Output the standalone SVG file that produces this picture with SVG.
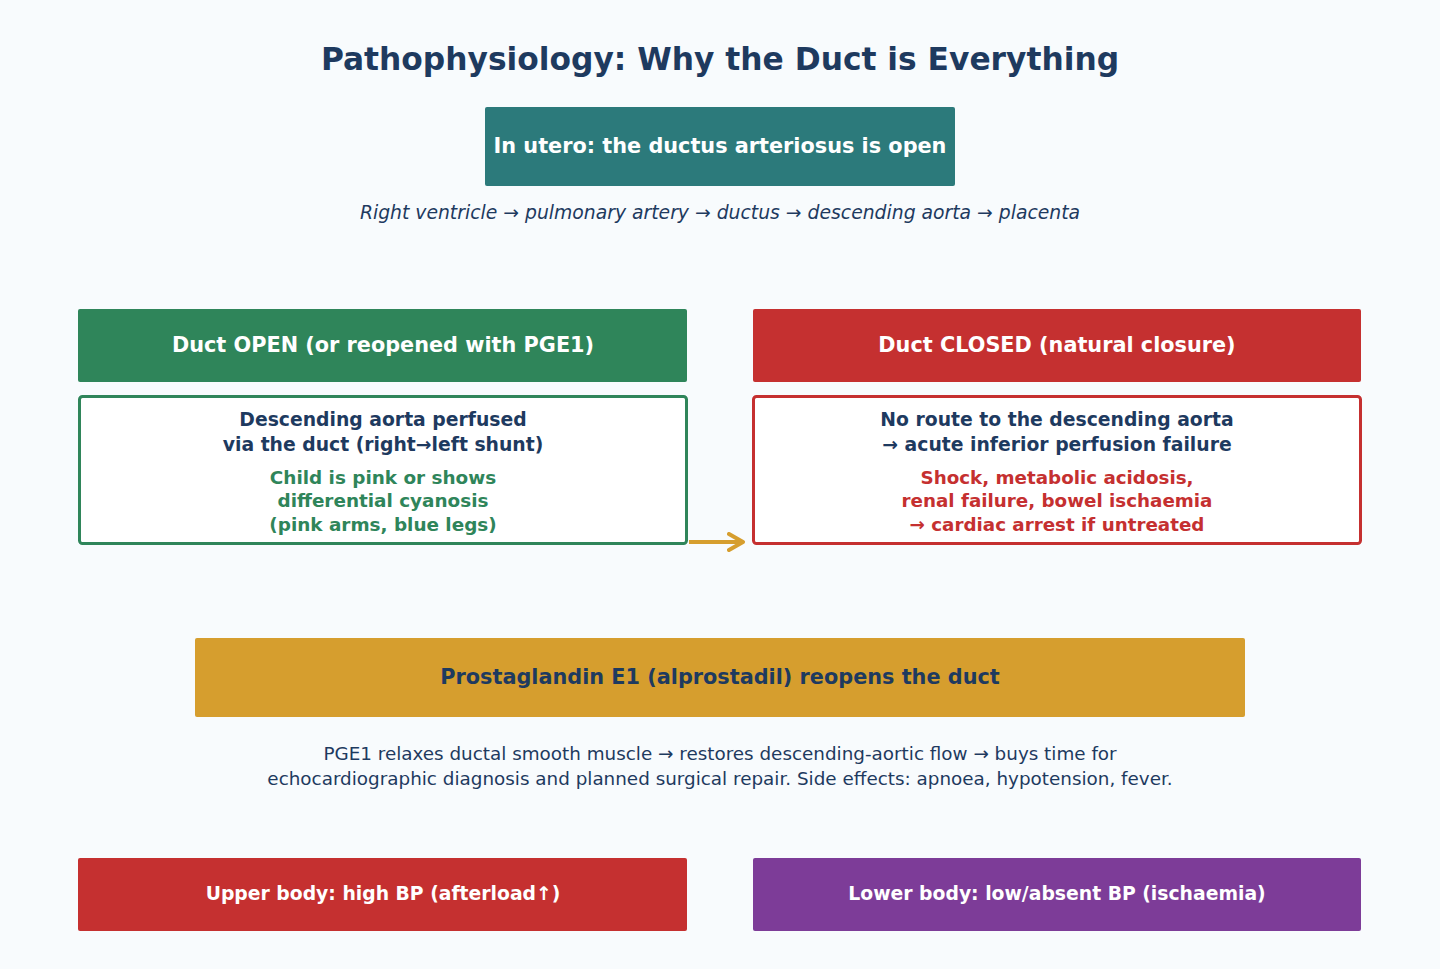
<svg xmlns="http://www.w3.org/2000/svg" width="1440" height="969" viewBox="0 0 1440 969">
<defs>
<style>
text{font-family:"DejaVu Sans","Liberation Sans",sans-serif;text-anchor:middle}
.t{font-size:31.3px;font-weight:bold;fill:#1e3a5f}
.hw{font-size:20.8px;font-weight:bold;fill:#ffffff}
.hs{font-size:18.8px;font-weight:bold;fill:#ffffff}
.nb{font-size:18.8px;font-weight:bold;fill:#1e3a5f}
.gb{font-size:18.4px;font-weight:bold;fill:#2f855a}
.rb{font-size:18.3px;font-weight:bold;fill:#c53030}
.it{font-size:18.8px;font-style:italic;fill:#1e3a5f}
.p{font-size:18.35px;fill:#1e3a5f}
</style>
<marker id="ah" viewBox="0 0 10 10" refX="8" refY="5" markerWidth="5" markerHeight="5" orient="auto" markerUnits="strokeWidth">
<path d="M1,1 L8,5 L1,9" fill="none" stroke="#d69e2e" stroke-width="2" stroke-linecap="round" stroke-linejoin="round"/>
</marker>
</defs>
<rect width="1440" height="969" fill="#f8fbfd"/>
<text class="t" x="720" y="70">Pathophysiology: Why the Duct is Everything</text>
<g id="utero">
<rect x="485" y="107" width="470" height="79" rx="2" fill="#2c7a7b"/>
<text class="hw" x="720" y="153">In utero: the ductus arteriosus is open</text>
</g>
<g id="utero-flow">
<text class="it" x="720" y="219">Right ventricle → pulmonary artery → ductus → descending aorta → placenta</text>
</g>
<g id="open-header">
<rect x="78" y="309" width="609" height="73" rx="2" fill="#2f855a"/>
<text class="hw" x="383" y="352">Duct OPEN (or reopened with PGE1)</text>
</g>
<g id="open-detail">
<rect x="79.5" y="396.5" width="607" height="147" rx="3" fill="#ffffff" stroke="#2f855a" stroke-width="3"/>
<text class="nb" x="383" y="426">Descending aorta perfused</text>
<text class="nb" x="383" y="451">via the duct (right→left shunt)</text>
<text class="gb" x="383" y="484">Child is pink or shows</text>
<text class="gb" x="383" y="507">differential cyanosis</text>
<text class="gb" x="383" y="531">(pink arms, blue legs)</text>
</g>
<g id="closed-header">
<rect x="753" y="309" width="608" height="73" rx="2" fill="#c53030"/>
<text class="hw" x="1057" y="352">Duct CLOSED (natural closure)</text>
</g>
<g id="closed-detail">
<rect x="753.5" y="396.5" width="607" height="147" rx="3" fill="#ffffff" stroke="#c53030" stroke-width="3"/>
<text class="nb" x="1057" y="426">No route to the descending aorta</text>
<text class="nb" x="1057" y="451">→ acute inferior perfusion failure</text>
<text class="rb" x="1057" y="484">Shock, metabolic acidosis,</text>
<text class="rb" x="1057" y="507">renal failure, bowel ischaemia</text>
<text class="rb" x="1057" y="531">→ cardiac arrest if untreated</text>
</g>
<g id="connectors">
<line x1="689" y1="542" x2="743" y2="542" stroke="#d69e2e" stroke-width="4" marker-end="url(#ah)"/>
</g>
<g id="pge1">
<rect x="195" y="638" width="1050" height="79" rx="2" fill="#d69e2e"/>
<text class="hw" x="720" y="684" style="fill:#1e3a5f">Prostaglandin E1 (alprostadil) reopens the duct</text>
</g>
<g id="pge1-note">
<text class="p" x="720" y="760">PGE1 relaxes ductal smooth muscle → restores descending-aortic flow → buys time for</text>
<text class="p" x="720" y="785">echocardiographic diagnosis and planned surgical repair. Side effects: apnoea, hypotension, fever.</text>
</g>
<g id="upper-body">
<rect x="78" y="858" width="609" height="73" rx="2" fill="#c53030"/>
<text class="hs" x="383" y="900">Upper body: high BP (afterload↑)</text>
</g>
<g id="lower-body">
<rect x="753" y="858" width="608" height="73" rx="2" fill="#7d3c98"/>
<text class="hs" x="1057" y="900">Lower body: low/absent BP (ischaemia)</text>
</g>
</svg>
